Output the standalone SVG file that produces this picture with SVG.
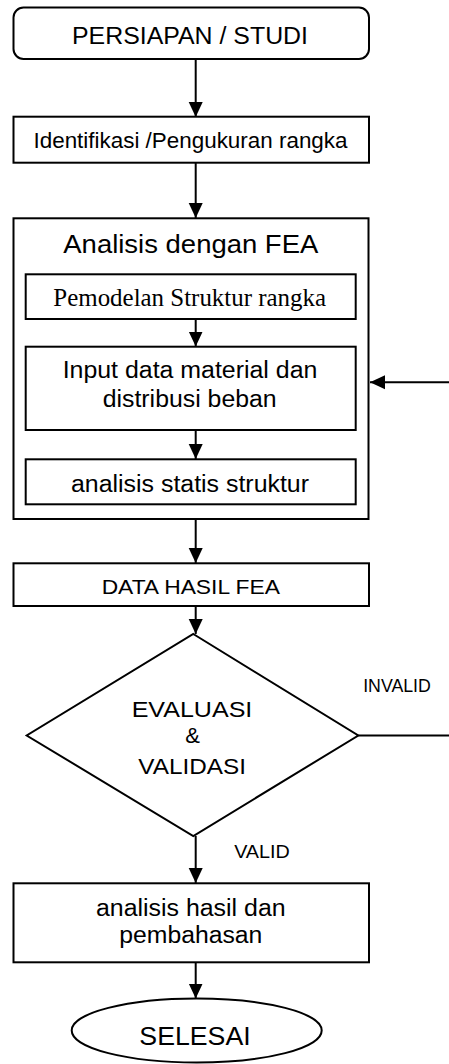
<svg xmlns="http://www.w3.org/2000/svg" width="449" height="1064" viewBox="0 0 449 1064">
<style>
.box{fill:#fff;stroke:#000;stroke-width:2}
.t{font-family:"Liberation Sans",Arial,sans-serif;fill:#000;text-anchor:middle}
.s{font-family:"Liberation Serif","Times New Roman",serif;fill:#000;text-anchor:middle}
.c{fill:none;stroke:#000;stroke-width:2}
</style>
<defs>
<marker id="ah" markerUnits="userSpaceOnUse" markerWidth="16" markerHeight="16" viewBox="0 0 16 16" refX="15" refY="8" orient="auto">
<path d="M0,1 L15,8 L0,15 Z" fill="#000"/>
</marker>
</defs>
<g id="n1"><rect class="box" x="13.5" y="7.5" width="355.5" height="51.5" rx="10"/>
<text class="t" x="190" y="44.3" font-size="23.5" textLength="236" lengthAdjust="spacingAndGlyphs">PERSIAPAN / STUDI</text></g>
<g id="n2"><rect class="box" x="13.5" y="116.7" width="355.5" height="46"/>
<text class="t" x="190.5" y="147.7" font-size="21.5" textLength="314" lengthAdjust="spacingAndGlyphs">Identifikasi /Pengukuran rangka</text></g>
<g id="n3"><rect class="box" x="13.5" y="218.3" width="355" height="300.7"/>
<text class="t" x="190.8" y="253.3" font-size="26" textLength="255" lengthAdjust="spacingAndGlyphs">Analisis dengan FEA</text></g>
<g id="n4"><rect class="box" x="25.7" y="274.3" width="330" height="44.7"/>
<text class="s" x="189.7" y="306" font-size="24.5" textLength="272.7" lengthAdjust="spacingAndGlyphs">Pemodelan Struktur rangka</text></g>
<g id="n5"><rect class="box" x="25.7" y="346.7" width="330" height="83.3"/>
<text class="t" x="190" y="377.7" font-size="23.5" textLength="254.7" lengthAdjust="spacingAndGlyphs">Input data material dan</text>
<text class="t" x="189.7" y="406.7" font-size="23.5" textLength="174" lengthAdjust="spacingAndGlyphs">distribusi beban</text></g>
<g id="n6"><rect class="box" x="25.7" y="459.3" width="330" height="45"/>
<text class="t" x="190" y="491.7" font-size="23.5" textLength="238" lengthAdjust="spacingAndGlyphs">analisis statis struktur</text></g>
<g id="n7"><rect class="box" x="13.5" y="563.3" width="355.5" height="42.7"/>
<text class="t" x="190.8" y="594.3" font-size="20" textLength="178.3" lengthAdjust="spacingAndGlyphs">DATA HASIL FEA</text></g>
<g id="n8"><polygon class="box" points="193.3,634 358.3,735.5 193.3,836 26.7,735.5"/>
<text class="t" x="192" y="716.7" font-size="22" textLength="120.7" lengthAdjust="spacingAndGlyphs">EVALUASI</text>
<text class="t" x="192.5" y="743.3" font-size="22">&amp;</text>
<text class="t" x="192.2" y="774.3" font-size="22" textLength="107.7" lengthAdjust="spacingAndGlyphs">VALIDASI</text></g>
<g id="n9"><rect class="box" x="13.5" y="883.3" width="355.5" height="79"/>
<text class="t" x="190.8" y="915.7" font-size="23.5" textLength="189.7" lengthAdjust="spacingAndGlyphs">analisis hasil dan</text>
<text class="t" x="190.8" y="943.3" font-size="23.5" textLength="143" lengthAdjust="spacingAndGlyphs">pembahasan</text></g>
<g id="n10"><ellipse class="box" cx="196.7" cy="1030.5" rx="125" ry="32"/>
<text class="t" x="195" y="1045" font-size="26.5" textLength="111.3" lengthAdjust="spacingAndGlyphs">SELESAI</text></g>
<g id="connectors">
<line class="c" x1="195.7" y1="59" x2="195.7" y2="117" marker-end="url(#ah)"/>
<line class="c" x1="195.7" y1="162.7" x2="195.7" y2="218" marker-end="url(#ah)"/>
<line class="c" x1="195.7" y1="319" x2="195.7" y2="346.5" marker-end="url(#ah)"/>
<line class="c" x1="195.7" y1="430" x2="195.7" y2="459" marker-end="url(#ah)"/>
<line class="c" x1="195.7" y1="519" x2="195.7" y2="563" marker-end="url(#ah)"/>
<line class="c" x1="195.7" y1="606" x2="195.7" y2="634" marker-end="url(#ah)"/>
<line class="c" x1="195.7" y1="836" x2="195.7" y2="883" marker-end="url(#ah)"/>
<line class="c" x1="195.7" y1="962.3" x2="195.7" y2="998.5" marker-end="url(#ah)"/>
<line class="c" x1="358.3" y1="735.5" x2="449" y2="735.5"/>
<line class="c" x1="449" y1="382.3" x2="370" y2="382.3" marker-end="url(#ah)"/>
<text class="t" x="397" y="691.7" font-size="17.5" textLength="67.7" lengthAdjust="spacingAndGlyphs">INVALID</text>
<text class="t" x="262" y="858.3" font-size="18.5" textLength="55.7" lengthAdjust="spacingAndGlyphs">VALID</text>
</g>
</svg>
